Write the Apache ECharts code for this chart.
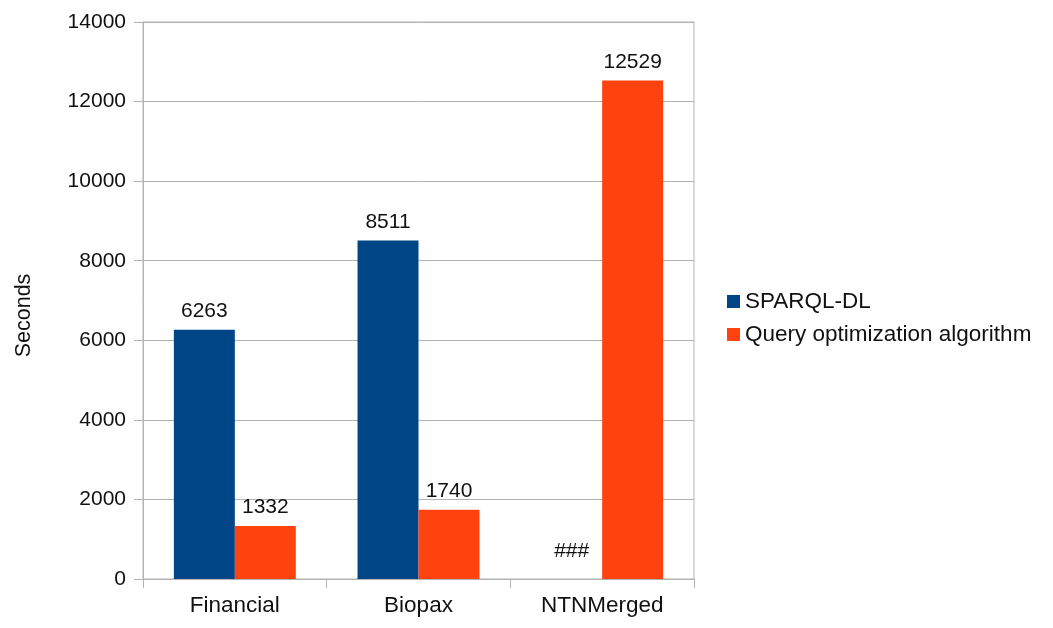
<!DOCTYPE html>
<html>
<head>
<meta charset="utf-8">
<script src="https://cdn.jsdelivr.net/npm/echarts@6/dist/echarts.min.js"></script>
<style>html,body{margin:0;padding:0;background:#fff}#c{width:1053px;height:628px}</style>
</head>
<body>
<div id="c"></div>
<script>
const categories = ['Financial', 'Biopax', 'NTNMerged'];
const sparqlDL = [6263, 8511, null];
const queryOpt = [1332, 1740, 12529];
const seriesNames = ['SPARQL-DL', 'Query optimization algorithm'];
const yTicks = [0, 2000, 4000, 6000, 8000, 10000, 12000, 14000];

const FONT = 'Liberation Sans';
const FS = 21;
const chart = echarts.init(document.getElementById('c'));

const labelBase = { show: true, position: 'top', distance: 8, color: '#111', fontFamily: FONT, fontSize: FS };
const yMin = yTicks[0], yMax = yTicks[yTicks.length - 1];

chart.setOption({
  animation: false,
  textStyle: { fontFamily: FONT },
  grid: { left: 143, right: 359, top: 22, bottom: 49, show: true, borderColor: '#b3b3b3', borderWidth: 1 },
  legend: {
    orient: 'vertical', left: 722, top: 285,
    itemWidth: 13, itemHeight: 13, itemGap: 10,
    icon: 'rect',
    textStyle: { fontFamily: FONT, fontSize: 22.5, color: '#111' },
    data: seriesNames
  },
  xAxis: {
    type: 'category', data: categories,
    axisLine: { lineStyle: { color: '#b3b3b3', width: 1 } },
    axisTick: { show: true, length: 9, lineStyle: { color: '#b3b3b3' } },
    axisLabel: { color: '#111', fontSize: 22.5, fontFamily: FONT, margin: 15 }
  },
  yAxis: [
    {
      type: 'value', min: yMin, max: yMax, interval: 2000, position: 'left',
      name: 'Seconds', nameLocation: 'middle', nameGap: 108,
      nameTextStyle: { color: '#111', fontSize: 21.5, fontFamily: FONT, padding: [0, 0, 0, -30] },
      axisLine: { show: true, lineStyle: { color: '#b3b3b3', width: 1 } },
      axisTick: { show: true, length: 9, lineStyle: { color: '#b3b3b3', width: 1 } },
      axisLabel: { color: '#111', fontSize: FS, fontFamily: FONT, margin: 17, formatter: v => String(v) },
      splitLine: { show: true, lineStyle: { color: '#b3b3b3', width: 1 } }
    },
    {
      type: 'value', min: yMin, max: yMax, interval: 2000, position: 'left', offset: 0,
      axisLine: { show: false },
      axisTick: { show: true, length: 9, lineStyle: { color: '#b3b3b3', width: 1 } },
      axisLabel: { show: false },
      splitLine: { show: false }
    }
  ],
  series: [
    {
      name: seriesNames[0], type: 'bar', barWidth: '33.2%', barGap: '0%',
      itemStyle: { color: '#004586' },
      label: labelBase,
      data: sparqlDL.map(v => v === null
        ? { value: 0, label: { formatter: '###', offset: [0, -9] } }
        : v)
    },
    {
      name: seriesNames[1], type: 'bar', barWidth: '33.2%', barGap: '0%',
      itemStyle: { color: '#ff420e' },
      label: labelBase,
      data: queryOpt
    }
  ]
});
</script>
</body>
</html>
